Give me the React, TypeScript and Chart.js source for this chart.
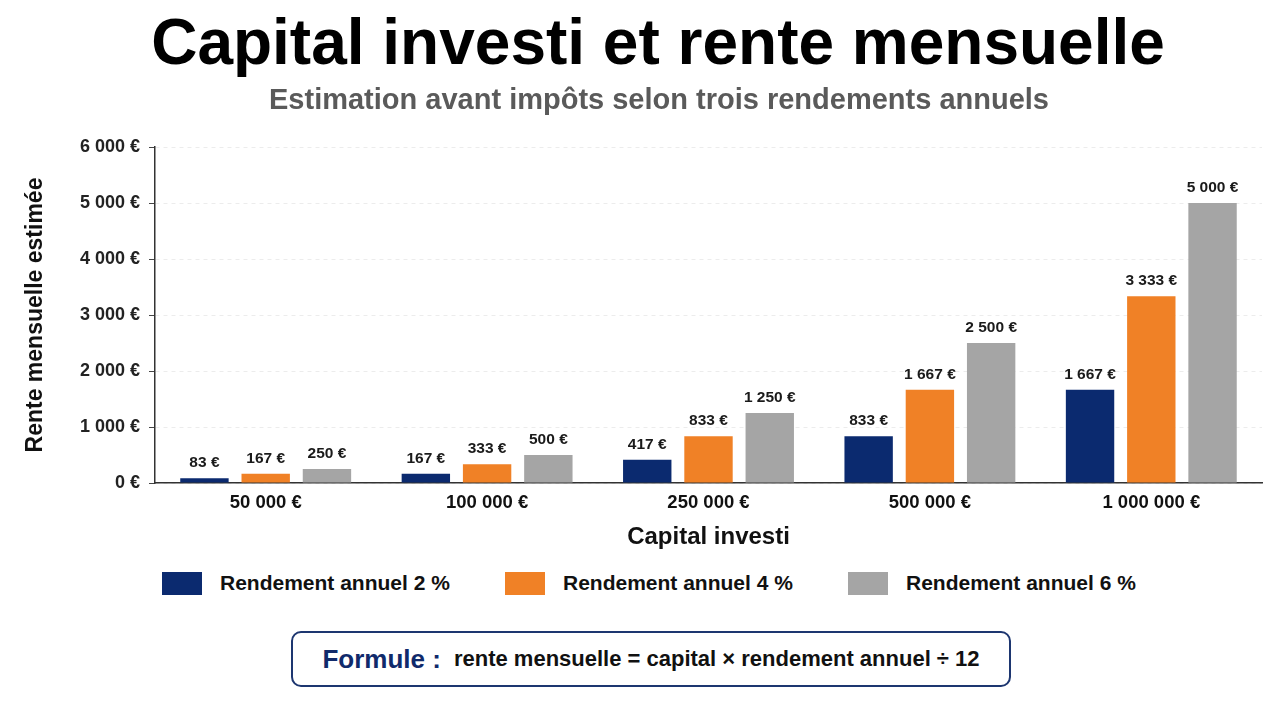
import React, { useEffect, useRef } from "react";
import { Chart, registerables } from "chart.js";

Chart.register(...registerables);

const FONT = "'Liberation Sans', Arial, Helvetica, sans-serif";

const titleText = "Capital investi et rente mensuelle";
const subtitleText = "Estimation avant impôts selon trois rendements annuels";
const xTitle = "Capital investi";
const yTitle = "Rente mensuelle estimée";

const categories = ["50 000 €", "100 000 €", "250 000 €", "500 000 €", "1 000 000 €"];
const seriesNames = ["Rendement annuel 2 %", "Rendement annuel 4 %", "Rendement annuel 6 %"];
const rente2 = [83, 167, 417, 833, 1667];
const rente4 = [167, 333, 833, 1667, 3333];
const rente6 = [250, 500, 1250, 2500, 5000];
const seriesColors = ["#0b2a6f", "#f08126", "#a5a5a5"];
const yMax = 6000;
const yStep = 1000;

function formatEuro(v: number): string {
  const s = Math.round(v).toString().replace(/\B(?=(\d{3})+(?!\d))/g, " ");
  return s + " €";
}

const valueLabelPlugin = {
  id: "valueLabels",
  afterDatasetsDraw(chart: any) {
    const ctx = chart.ctx;
    ctx.save();
    ctx.font = `bold 15.5px ${FONT}`;
    ctx.fillStyle = "#1a1a1a";
    ctx.textAlign = "center";
    ctx.textBaseline = "alphabetic";
    chart.data.datasets.forEach((ds: any, i: number) => {
      const meta = chart.getDatasetMeta(i);
      meta.data.forEach((bar: any, j: number) => {
        ctx.fillText(formatEuro(ds.data[j]), bar.x, bar.y - 11);
      });
    });
    ctx.restore();
  },
};

function BarChart() {
  const ref = useRef<HTMLCanvasElement | null>(null);
  useEffect(() => {
    if (!ref.current) return;
    const seriesData = [rente2, rente4, rente6];
    const chart = new Chart(ref.current, {
      type: "bar",
      data: {
        labels: categories,
        datasets: seriesData.map((d, i) => ({
          label: seriesNames[i],
          data: d,
          backgroundColor: seriesColors[i],
          borderWidth: 0,
          categoryPercentage: 0.83,
          barPercentage: 0.79,
        })),
      },
      options: {
        animation: false,
        responsive: false,
        maintainAspectRatio: false,
        layout: { padding: { top: 147, right: 18, left: 0, bottom: 0 } },
        plugins: {
          legend: { display: false },
          tooltip: { enabled: false },
          title: { display: false },
        },
        scales: {
          x: {
            grid: { display: false, drawTicks: false },
            border: { display: true, color: "#333", width: 1.5 },
            ticks: {
              color: "#111",
              font: { family: FONT, size: 18.5, weight: "bold" },
              padding: 9,
            },
            title: {
              display: true,
              text: xTitle,
              color: "#111",
              font: { family: FONT, size: 24, weight: "bold" },
              padding: { top: 0, bottom: 8 },
            },
            afterFit: (s: any) => {
              s.height = 77;
            },
          },
          y: {
            min: 0,
            max: yMax,
            ticks: {
              stepSize: yStep,
              callback: (v: any) => formatEuro(Number(v)),
              color: "#222",
              font: { family: FONT, size: 18, weight: "bold" },
              padding: 9,
            },
            grid: { color: "#ececec", tickColor: "#444", tickLength: 6, lineWidth: 1 },
            border: { display: true, color: "#333", width: 1.5, dash: [4, 4] },
            title: {
              display: true,
              text: yTitle,
              color: "#111",
              font: { family: FONT, size: 23, weight: "bold" },
              padding: { top: 22, bottom: 0 },
            },
            afterFit: (s: any) => {
              s.width = 155;
            },
          },
        },
      } as any,
      plugins: [valueLabelPlugin],
    });
    return () => chart.destroy();
  }, []);
  return (
    <canvas
      ref={ref}
      width={1280}
      height={560}
      style={{ position: "absolute", left: 0, top: 0, width: 1280, height: 560, display: "block" }}
    />
  );
}

export default function App() {
  const legendLefts = [162, 505, 848];
  return (
    <div
      style={{
        position: "fixed",
        left: 0,
        top: 0,
        width: 1280,
        height: 702,
        background: "#ffffff",
        fontFamily: FONT,
        overflow: "hidden",
      }}
    >
      <BarChart />
      <div
        style={{
          position: "absolute",
          top: 5,
          left: 0,
          width: 1280,
          paddingLeft: 36,
          boxSizing: "border-box",
          textAlign: "center",
          fontSize: 64,
          fontWeight: "bold",
          color: "#000",
          lineHeight: "normal",
          whiteSpace: "nowrap",
        }}
      >
        {titleText}
      </div>
      <div
        style={{
          position: "absolute",
          top: 83,
          left: 0,
          width: 1280,
          paddingLeft: 38,
          boxSizing: "border-box",
          textAlign: "center",
          fontSize: 29,
          fontWeight: "bold",
          color: "#5a5a5a",
          lineHeight: "normal",
          whiteSpace: "nowrap",
        }}
      >
        {subtitleText}
      </div>
      {seriesNames.map((name, i) => (
        <div
          key={name}
          style={{
            position: "absolute",
            left: legendLefts[i],
            top: 571,
            height: 24,
            display: "flex",
            alignItems: "center",
            whiteSpace: "nowrap",
          }}
        >
          <div style={{ width: 40, height: 23, background: seriesColors[i], marginRight: 18 }} />
          <span style={{ fontSize: 21, fontWeight: "bold", color: "#111" }}>{name}</span>
        </div>
      ))}
      <div
        style={{
          position: "absolute",
          left: 291,
          top: 631,
          width: 720,
          height: 56,
          boxSizing: "border-box",
          border: "2px solid #1d3670",
          borderRadius: 10,
          display: "flex",
          alignItems: "center",
          justifyContent: "center",
          whiteSpace: "nowrap",
        }}
      >
        <span style={{ fontSize: 26, fontWeight: "bold", color: "#102a6b", marginRight: 13 }}>Formule :</span>
        <span style={{ fontSize: 22, fontWeight: "bold", color: "#111" }}>
          rente mensuelle = capital × rendement annuel ÷ 12
        </span>
      </div>
    </div>
  );
}
